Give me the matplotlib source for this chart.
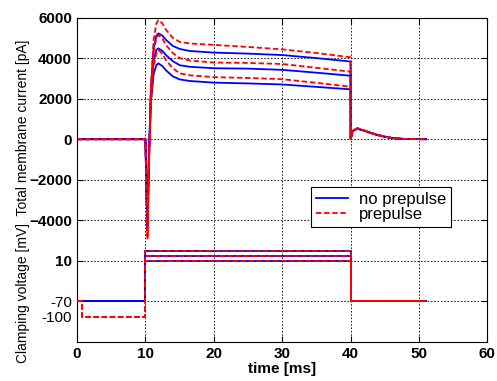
import numpy as np
import matplotlib.pyplot as plt

plt.rcParams['font.family'] = ['Liberation Sans', 'DejaVu Sans']

# time points of the current traces [ms]
t_cur = [0, 10, 10.15, 10.3, 10.5, 10.8, 11.2, 11.6, 11.9, 12.5, 13, 14, 15, 16.5,
         20, 25, 30, 35, 40, 40.02, 40.3, 41, 42, 43, 44, 45, 46, 47, 48, 51]

# total membrane current [pA], no prepulse (blue)
i_blue_30 = [0, 0, -2500, -4400, -1000, 2500, 4500, 5100, 5220, 5100, 4900, 4600, 4450, 4350,
             4270, 4220, 4150, 4000, 3830, 0, 400, 520, 420, 300, 200, 120, 60, 30, 10, 0]
i_blue_20 = [0, 0, -2400, -4300, -1000, 2200, 3900, 4400, 4480, 4350, 4150, 3850, 3650, 3570,
             3500, 3480, 3420, 3280, 3130, 0, 400, 520, 420, 300, 200, 120, 60, 30, 10, 0]
i_blue_10 = [0, 0, -2300, -4200, -1000, 1800, 3200, 3650, 3740, 3600, 3400, 3100, 2950, 2870,
             2790, 2750, 2700, 2580, 2460, 0, 400, 520, 420, 300, 200, 120, 60, 30, 10, 0]

# total membrane current [pA], prepulse (red)
i_red_30 = [0, 0, -2700, -4900, -1500, 2500, 4900, 5700, 5880, 5700, 5400, 5000, 4800, 4720,
            4650, 4550, 4430, 4250, 4040, 0, 420, 540, 430, 310, 210, 130, 70, 30, 10, 0]
i_red_20 = [0, 0, -2600, -4800, -1500, 2200, 4300, 5000, 5140, 4950, 4650, 4250, 4000, 3880,
            3780, 3760, 3710, 3520, 3330, 0, 420, 540, 430, 310, 210, 130, 70, 30, 10, 0]
i_red_10 = [0, 0, -2500, -4700, -1500, 1800, 3600, 4250, 4400, 4200, 3900, 3500, 3250, 3150,
            3060, 3020, 2960, 2780, 2590, 0, 420, 540, 430, 310, 210, 130, 70, 30, 10, 0]

# clamping voltage protocol [mV]
t_v_blue = [0, 10, 10, 40, 40, 51]
t_v_red = [0, 0.7, 0.7, 10, 10, 40, 40, 51]
v_steps = [10, 20, 30]
v_hold = -70
v_pre = -100

fig = plt.figure(figsize=(4.97, 3.81), dpi=100)
ax = fig.add_axes([0.155, 0.1024, 0.8255, 0.8516])
# second axes on top for the voltage (own scale, labels on the left)
ax2 = fig.add_axes(ax.get_position(), sharex=ax)
ax2.patch.set_visible(False)

grid_kw = dict(color='black', linestyle=(0, (2, 2)), linewidth=0.6)
red_dash = (0, (3, 1.5))
lw = 1.3

# current traces
for i_b in [i_blue_10, i_blue_20, i_blue_30]:
    ax.plot(t_cur, i_b, color='blue', lw=lw)
for i_r in [i_red_10, i_red_20, i_red_30]:
    ax.plot(t_cur, i_r, color='red', lw=lw, linestyle=red_dash)

# voltage traces
for v in v_steps:
    ax2.plot(t_v_blue, [v_hold, v_hold, v, v, v_hold, v_hold], color='blue', lw=lw)
for v in v_steps:
    ax2.plot(t_v_red, [v_hold, v_hold, v_pre, v_pre, v, v, v_hold, v_hold],
             color='red', lw=lw, linestyle=red_dash)

ax.set_xlim(0, 60)
ax.set_ylim(-10000, 6000)
ax.set_xticks([0, 10, 20, 30, 40, 50, 60])
ax.set_yticks([-4000, -2000, 0, 2000, 4000, 6000])
ax.grid(True, **grid_kw)
ax.tick_params(direction='in', length=4, top=True, right=True, labelsize=11)
for lab in ax.get_xticklabels() + ax.get_yticklabels():
    lab.set_fontweight('bold')

ax2.set_ylim(-150, 490)
ax2.set_yticks([-70, 10])
ax2.set_yticklabels(['-70', '10'])
ax2.set_yticks([-100], minor=True)
ax2.set_yticklabels(['-100'], minor=True)
ax2.grid(True, axis='y', which='major', **grid_kw)
ax2.tick_params(axis='y', which='both', direction='in', length=4, right=True, labelsize=11)
ax2.tick_params(axis='y', which='minor', length=0)
ax2.tick_params(axis='x', which='both', bottom=False, labelbottom=False)
ax2.get_yticklabels()[1].set_fontweight('bold')
for s in ax2.spines.values():
    s.set_visible(False)

ax.set_xlabel('time [ms]', fontsize=11, fontweight='bold', labelpad=1)
fig.text(0.046, 0.472, 'Clamping voltage [mV]  Total membrane current [pA]',
         rotation=90, ha='center', va='center', fontsize=10)

h1, = ax.plot([], [], color='blue', lw=lw)
h2, = ax.plot([], [], color='red', lw=lw, linestyle=red_dash)
leg = ax.legend([h1, h2], ['no prepulse', 'prepulse'], loc='upper left',
                bbox_to_anchor=(0.570, 0.478), fontsize=12, fancybox=False,
                framealpha=1, edgecolor='black', handlelength=1.9,
                borderaxespad=0, labelspacing=0.0, handletextpad=0.7,
                borderpad=0.3)
leg.get_frame().set_linewidth(0.8)

fig.savefig('out.png', dpi=100)
